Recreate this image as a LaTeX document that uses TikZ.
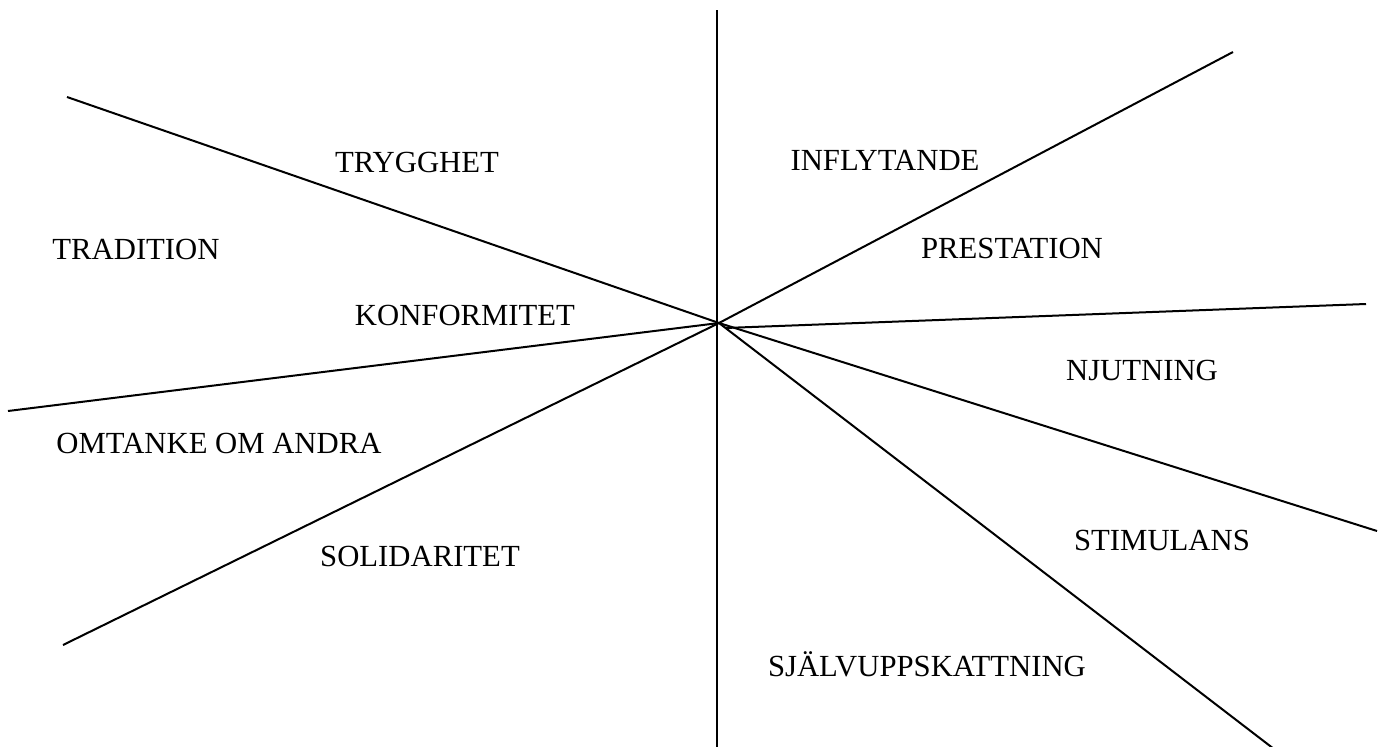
\documentclass[tikz,border=0pt]{standalone}
\usepackage{fontspec}
\setmainfont{Liberation Serif}
\begin{document}
\begin{tikzpicture}[x=1pt,y=-1pt,
  axis/.style={line width=2pt,black},
  value/.style={anchor=base,inner sep=0pt,font=\fontsize{30.7}{36}\selectfont}]
\useasboundingbox (0,0) rectangle (1385,747);
% hub where the rays meet
\coordinate (hubL) at (719,323);
\coordinate (hubR) at (725,328);
% outer ends of the rays
\coordinate (top) at (717,10);
\coordinate (bottom) at (717,747);
\coordinate (nw) at (67,97);
\coordinate (ne) at (1233,52);
\coordinate (w) at (8,411);
\coordinate (e) at (1366,304);
\coordinate (sw) at (63,645);
\coordinate (ese) at (1377,531);
\coordinate (sse) at (1274,749);
% rays
\draw[axis] (top) -- (bottom);
\draw[axis] (nw) -- (hubL);
\draw[axis] (w) -- (hubL);
\draw[axis] (sw) -- (hubL);
\draw[axis] (hubL) -- (ne);
\draw[axis] (hubR) -- (e);
\draw[axis] (hubL) -- (ese);
\draw[axis] (hubL) -- (sse);
% value labels
\node[value] (trygghet) at (417,172) {TRYGGHET};
\node[value] (tradition) at (136,259) {TRADITION};
\node[value] (inflytande) at (885,170) {INFLYTANDE};
\node[value] (prestation) at (1012,258) {PRESTATION};
\node[value] (konformitet) at (465,325) {KONFORMITET};
\node[value] (njutning) at (1142,380) {NJUTNING};
\node[value] (omtanke) at (219,453) {OMTANKE OM ANDRA};
\node[value] (stimulans) at (1162,550) {STIMULANS};
\node[value] (solidaritet) at (420,566) {SOLIDARITET};
\node[value] (sjalv) at (927,676) {SJÄLVUPPSKATTNING};
\end{tikzpicture}
\end{document}
